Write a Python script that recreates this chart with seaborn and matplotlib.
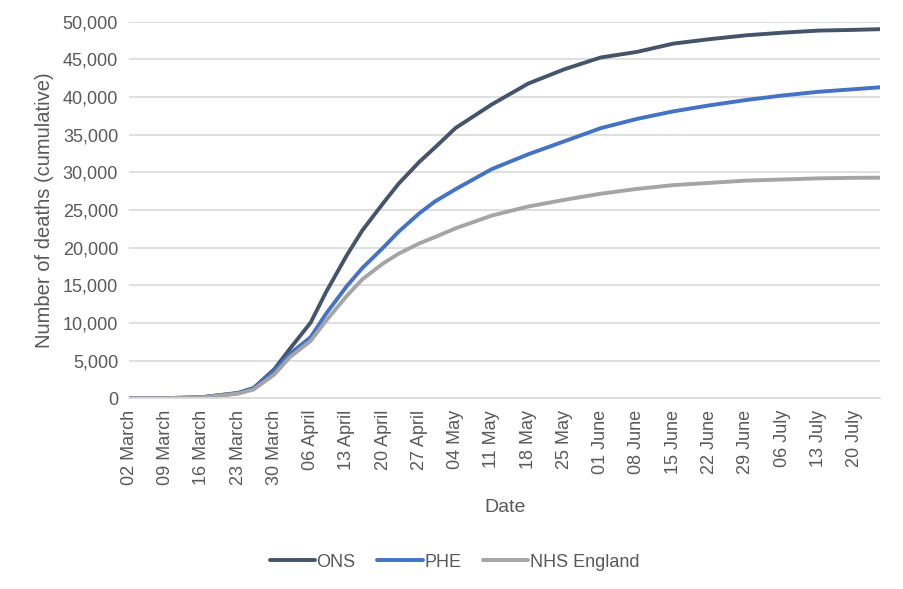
import pandas as pd
import matplotlib.pyplot as plt
import matplotlib.dates as mdates
import matplotlib.ticker as mticker
import seaborn as sns

dates = ["2020-03-02", "2020-03-09", "2020-03-16", "2020-03-23", "2020-03-26",
         "2020-03-30", "2020-04-02", "2020-04-06", "2020-04-09", "2020-04-13",
         "2020-04-16", "2020-04-20", "2020-04-23", "2020-04-27", "2020-04-30",
         "2020-05-04", "2020-05-11", "2020-05-18", "2020-05-25", "2020-06-01",
         "2020-06-08", "2020-06-15", "2020-06-22", "2020-06-29", "2020-07-06",
         "2020-07-13", "2020-07-20", "2020-07-25"]

ons = [0, 0, 130, 700, 1350, 3850, 6560, 10030, 14120, 19000,
       22300, 25900, 28500, 31400, 33300, 35900, 39030, 41790, 43700, 45260,
       46000, 47100, 47690, 48200, 48550, 48830, 48930, 49020]
phe = [0, 0, 120, 650, 1300, 3600, 5890, 8100, 11230, 14900,
       17300, 19990, 22120, 24570, 26130, 27770, 30440, 32400, 34130, 35870,
       37100, 38100, 38900, 39600, 40200, 40700, 41050, 41300]
nhs = [0, 0, 110, 600, 1150, 3150, 5440, 7600, 10300, 13600,
       15800, 17900, 19200, 20570, 21400, 22570, 24260, 25460, 26350, 27160,
       27800, 28300, 28600, 28900, 29050, 29200, 29270, 29290]

series = ["ONS", "PHE", "NHS England"]
colors = {"ONS": "#44546A", "PHE": "#4472C4", "NHS England": "#A5A5A5"}

df = pd.DataFrame({"date": pd.to_datetime(dates), "ONS": ons, "PHE": phe, "NHS England": nhs})
long = df.melt(id_vars="date", var_name="source", value_name="deaths")

sns.set_style("white")
plt.rcParams["font.family"] = ["Liberation Sans", "DejaVu Sans"]
txt = "#595959"

fig = plt.figure(figsize=(9.04, 5.89), dpi=100)
ax = fig.add_axes([0.143, 0.324, 0.831, 0.639])

sns.lineplot(data=long, x="date", y="deaths", hue="source", hue_order=series,
             palette=colors, linewidth=2.8, ax=ax, legend=True)

ax.set_ylim(0, 50000)
ax.set_xlim(df["date"].iloc[0], df["date"].iloc[-1])
ax.yaxis.set_major_locator(mticker.MultipleLocator(5000))
ax.yaxis.set_major_formatter(mticker.FuncFormatter(lambda v, p: f"{int(v):,}"))
ticks = pd.date_range("2020-03-02", "2020-07-20", freq="7D")
ax.set_xticks(ticks)
ax.xaxis.set_major_formatter(mdates.DateFormatter("%d %B"))
plt.setp(ax.get_xticklabels(), rotation=90)

ax.grid(axis="y", color="#D9D9D9", linewidth=1.2)
ax.set_axisbelow(True)
for s in ["top", "right", "left"]:
    ax.spines[s].set_visible(False)
ax.spines["bottom"].set_color("#D9D9D9")
ax.spines["bottom"].set_linewidth(1.2)
ax.tick_params(axis="x", colors="#D9D9D9", labelcolor=txt, labelsize=13, length=5, width=1.2)
ax.tick_params(axis="y", length=0, labelcolor=txt, labelsize=13, pad=8)

ax.set_xlabel("Date", fontsize=14, color=txt, labelpad=10)
ax.set_ylabel("Number of deaths (cumulative)", fontsize=14.5, color=txt, labelpad=6)

ax.legend(loc="upper center", bbox_to_anchor=(0.433, -0.37), ncol=3, frameon=False,
          fontsize=13, labelcolor=txt, handlelength=2.5, handletextpad=0.1, columnspacing=1.2)

fig.savefig("out.png", dpi=100)
